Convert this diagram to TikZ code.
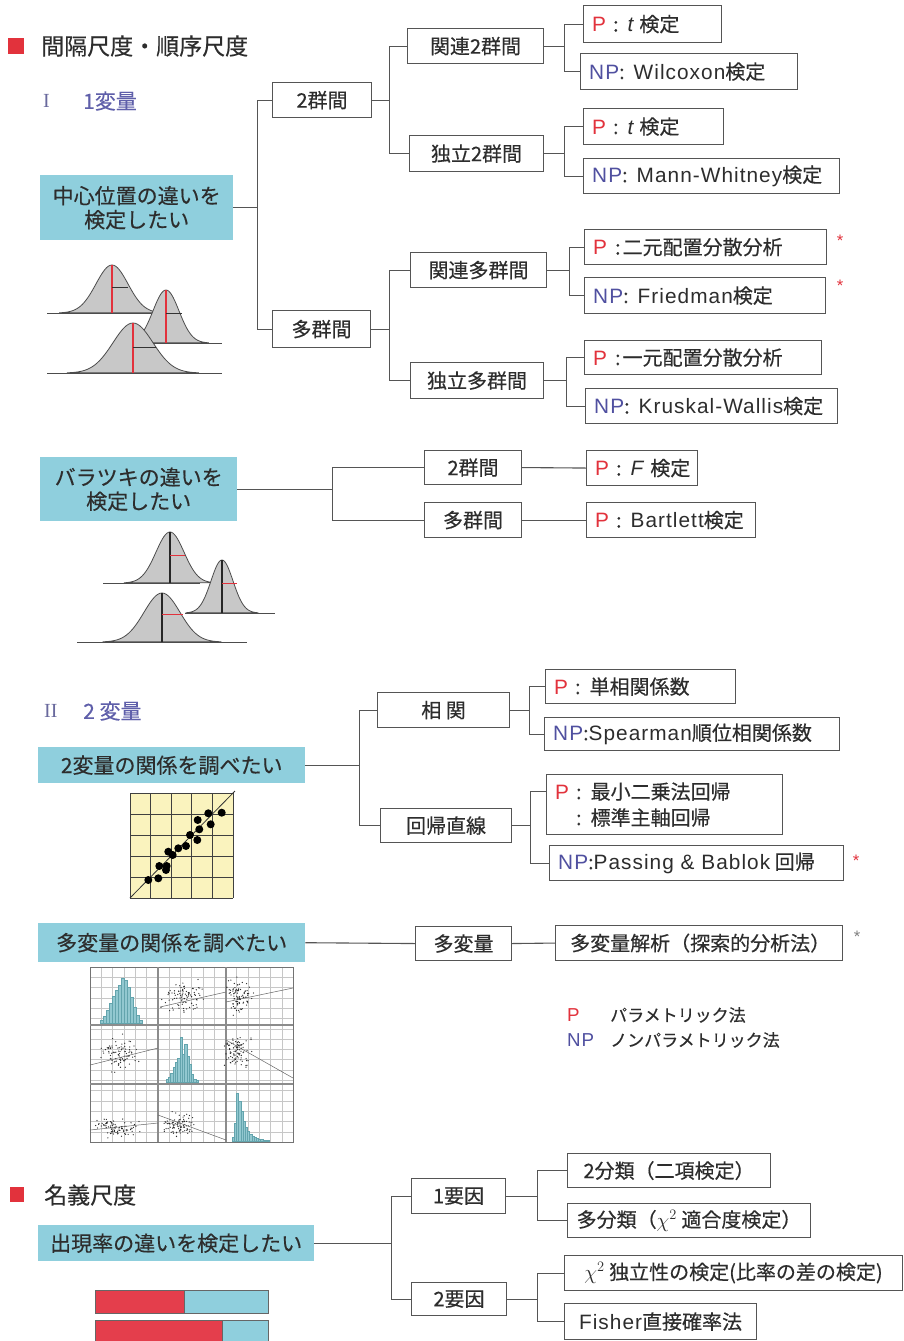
\documentclass[tikz,border=0pt]{standalone}
\usepackage{fontspec}
\setmainfont{Noto Sans CJK JP}[FakeBold=0.35]
\newfontfamily\lat{Liberation Sans}[Scale=1.04, LetterSpace=5]
\newfontfamily\serif{Liberation Serif}
\usetikzlibrary{calc}
\definecolor{pred}{RGB}{226,50,60}
\definecolor{npblue}{RGB}{80,80,160}
\definecolor{txt}{RGB}{45,45,45}
\definecolor{lin}{RGB}{85,85,85}
\definecolor{cyanbox}{RGB}{143,207,221}
\definecolor{secblue}{RGB}{95,95,170}
\definecolor{curvefill}{RGB}{200,200,200}
\definecolor{scatbg}{RGB}{250,243,190}
\definecolor{histc}{RGB}{110,182,192}
\definecolor{barred}{RGB}{228,62,76}
\newcommand\Pl{\textcolor{pred}{\lat P}}
\newcommand\NPl{\textcolor{npblue}{\lat NP}}
\newcommand\cl{\hspace{7pt}:\hspace{9pt}}
\newcommand\ncl{:\hspace{9pt}}
\tikzset{
  boxst/.style={draw=lin, line width=1.1pt, fill=white, inner sep=0pt, anchor=north west, font=\fontsize{20}{24}\selectfont, text=txt},
  conn/.style={draw=lin, line width=1.1pt},
  bluebox/.style={fill=cyanbox, inner sep=0pt, anchor=north west, align=center, font=\fontsize{21}{24}\selectfont, text=txt},
  lbl/.style={anchor=west, inner sep=0pt, align=left, font=\fontsize{20}{26}\selectfont, text=txt},
  hdr/.style={anchor=west, inner sep=0pt, font=\fontsize{23}{23}\selectfont, text=txt},
  seclbl/.style={anchor=west, inner sep=0pt, font=\fontsize{21}{21}\selectfont, text=secblue},
  ast/.style={inner sep=0pt, font=\lat\fontsize{16}{16}\selectfont, text=pred},
  leg/.style={anchor=west, inner sep=0pt, font=\fontsize{17}{18}\selectfont, text=txt},
  curve/.style={fill=curvefill, draw=black!70, line width=0.8pt},
  gridc/.style={draw=black!22, line width=0.4pt},
}
\newcommand\cbox[6]{\node[boxst, minimum width={#4-#2}, minimum height={#5-#3}] (#1) at (#2,#3) {#6};}
\newcommand\lbox[6]{\node[boxst, minimum width={#4-#2}, minimum height={#5-#3}] (#1) at (#2,#3) {};
  \node[lbl] (#1t) at ([xshift=9pt]#1.west) {#6};}
\newcommand\bbox[6]{\node[bluebox, minimum width={#4-#2}, minimum height={#5-#3}] (#1) at (#2,#3) {#6};}
\newcommand\bell[4]{\filldraw[curve] plot[domain=-3.3:3.3, samples=61, smooth] ({#1+#4*\x},{#2-#3*exp(-0.5*(\x)*(\x))}) -- cycle;}
\newcommand\cloud[5]{\foreach \k in {1,...,#5}{%
   \pgfmathsetmacro\ux{#1+#3*(rand+rand+rand)}%
   \pgfmathsetmacro\uy{#2+#4*(rand+rand+rand)}%
   \fill[black!85] (\ux,\uy) circle[radius=0.65];}}
\begin{document}
\begin{tikzpicture}[x=1pt,y=-1pt]
\useasboundingbox (0,0) rectangle (904,1341);
\fill[white] (0,0) rectangle (904,1341);

% ---------- header
\fill[pred] (8,38) rectangle (24,54);
\node[hdr] (h1) at (41,46) {間隔尺度・順序尺度};
\node[seclbl, font=\serif\fontsize{20}{20}\selectfont, text=secblue!70!gray] (s1a) at (43,101) {I};
\node[seclbl] (s1b) at (83,101) {1変量};

% ---------- section 1: centre
\bbox{c1}{40}{175}{233}{240}{中心位置の違いを\\検定したい}
\cbox{g2}{272}{82}{371}{117}{2群間}
\cbox{gm}{272}{310}{370}{347}{多群間}
\cbox{r2}{407}{28}{543}{63}{関連2群間}
\cbox{i2}{409}{135}{543}{171}{独立2群間}
\cbox{rm}{410}{252}{546}{287}{関連多群間}
\cbox{im}{410}{362}{543}{398}{独立多群間}
\lbox{l1}{583}{5}{721}{42}{\Pl\cl{\lat\itshape t}\hspace{6pt}検定}
\lbox{l2}{580}{53}{797}{89}{\NPl\ncl{\lat Wilcoxon}検定}
\lbox{l3}{583}{108}{723}{144}{\Pl\cl{\lat\itshape t}\hspace{6pt}検定}
\lbox{l4}{583}{158}{839}{193}{\NPl\ncl{\lat Mann-Whitney}検定}
\lbox{l5}{584}{229}{826}{264}{\Pl\hspace{8pt}:\hspace{2pt}二元配置分散分析}
\lbox{l6}{584}{277}{825}{313}{\NPl\ncl{\lat Friedman}検定}
\lbox{l7}{584}{340}{821}{374}{\Pl\hspace{8pt}:\hspace{2pt}一元配置分散分析}
\lbox{l8}{585}{388}{837}{423}{\NPl\ncl{\lat Kruskal-Wallis}検定}
\node[ast] (a1) at (840,241) {*};
\node[ast] (a2) at (840,286) {*};

\coordinate (j0) at ([xshift=24pt]c1.east);
\draw[conn] (c1.east) -- (j0);
\draw[conn] (g2.west) -| (j0);
\draw[conn] (gm.west) -| (j0);
\coordinate (j1) at ([xshift=17pt]g2.east);
\draw[conn] (g2.east) -- (j1);
\draw[conn] (r2.west) -| (j1);
\draw[conn] (i2.west) -| (j1);
\coordinate (j2) at ([xshift=18pt]gm.east);
\draw[conn] (gm.east) -- (j2);
\draw[conn] (rm.west) -| (j2);
\draw[conn] (im.west) -| (j2);
\coordinate (j3) at ([xshift=20pt]r2.east);
\draw[conn] (r2.east) -- (j3);
\draw[conn] (l1.west) -| (j3);
\draw[conn] (l2.west) -| (j3);
\coordinate (j4) at ([xshift=20pt]i2.east);
\draw[conn] (i2.east) -- (j4);
\draw[conn] (l3.west) -| (j4);
\draw[conn] (l4.west) -| (j4);
\coordinate (j5) at ([xshift=22pt]rm.east);
\draw[conn] (rm.east) -- (j5);
\draw[conn] (l5.west) -| (j5);
\draw[conn] (l6.west) -| (j5);
\coordinate (j6) at ([xshift=22pt]im.east);
\draw[conn] (im.east) -- (j6);
\draw[conn] (l7.west) -| (j6);
\draw[conn] (l8.west) -| (j6);

% bell curves 1
\draw[black!70, line width=0.8pt] (47,313) -- (165,313);
\bell{112}{313}{48}{16}
\draw[pred, line width=1.2pt] (112,265) -- (112,313);
\draw[black!80, line width=1pt] (112,287) -- (128,287);
\draw[black!70, line width=0.8pt] (143,343) -- (222,343);
\bell{166}{343}{53}{13}
\draw[pred, line width=1.2pt] (166,290) -- (166,343);
\draw[black!80, line width=1pt] (166,313) -- (182,313);
\draw[black!70, line width=0.8pt] (47,373) -- (222,373);
\bell{133}{373}{50}{20}
\draw[pred, line width=1.2pt] (133,323) -- (133,373);
\draw[black!80, line width=1pt] (133,347) -- (156,347);

% ---------- section 1: spread
\bbox{c2}{40}{457}{237}{521}{バラツキの違いを\\検定したい}
\cbox{v2}{424}{450}{521}{484}{2群間}
\cbox{vm}{424}{502}{521}{537}{多群間}
\lbox{vf}{586}{450}{697}{485}{\Pl\cl{\lat\itshape F}\hspace{7pt}検定}
\lbox{vb}{586}{502}{755}{537}{\Pl\cl{\lat Bartlett}検定}
\coordinate (j7) at ([xshift=95pt]c2.east);
\draw[conn] (c2.east) -- (j7);
\draw[conn] (v2.west) -| (j7);
\draw[conn] (vm.west) -| (j7);
\draw[conn] (v2.east) -- (vf.west);
\draw[conn] (vm.east) -- (vb.west);

\draw[black!70, line width=0.8pt] (103,583) -- (200,583);
\bell{170}{583}{51}{14}
\draw[black!85, line width=1.2pt] (170,532) -- (170,583);
\draw[pred, line width=1pt] (170,555) -- (185,555);
\draw[black!70, line width=0.8pt] (185,613) -- (275,613);
\bell{222}{613}{53}{11}
\draw[black!85, line width=1.2pt] (222,560) -- (222,613);
\draw[pred, line width=1pt] (222,583) -- (237,583);
\draw[black!70, line width=0.8pt] (77,642) -- (247,642);
\bell{162}{642}{49}{18}
\draw[black!85, line width=1.2pt] (162,593) -- (162,642);
\draw[pred, line width=1pt] (162,614) -- (183,614);

% ---------- section II
\node[seclbl, font=\serif\fontsize{20}{20}\selectfont, text=secblue!70!gray] (s2a) at (44,711) {II};
\node[seclbl] (s2b) at (83,711) {2 変量};
\bbox{c3}{38}{747}{305}{783}{2変量の関係を調べたい}
\cbox{co}{377}{692}{509}{727}{相 関}
\cbox{re}{380}{808}{511}{842}{回帰直線}
\lbox{sc}{545}{669}{735}{703}{\Pl\cl 単相関係数}
\lbox{sp}{544}{717}{839}{750}{\NPl:{\lat Spearman}順位相関係数}
\lbox{ls}{546}{774}{782}{834}{\Pl\cl 最小二乗法回帰\\\phantom{\Pl}\cl 標準主軸回帰}
\lbox{pb}{549}{845}{843}{880}{\NPl:{\lat Passing \& Bablok} 回帰}
\node[ast] (a3) at (856,861) {*};
\coordinate (j8) at ([xshift=54pt]c3.east);
\draw[conn] (c3.east) -- (j8);
\draw[conn] (co.west) -| (j8);
\draw[conn] (re.west) -| (j8);
\coordinate (j9) at ([xshift=19pt]co.east);
\draw[conn] (co.east) -- (j9);
\draw[conn] (sc.west) -| (j9);
\draw[conn] (sp.west) -| (j9);
\coordinate (j10) at ([xshift=18pt]re.east);
\draw[conn] (re.east) -- (j10);
\draw[conn] ([yshift=13pt]ls.west) -| (j10);
\draw[conn] (pb.west) -| (j10);

% scatter plot
\fill[scatbg] (130,793) rectangle (233,898);
\foreach \i in {0,...,5} {
  \draw[black!75, line width=0.9pt] ({130+\i*20.6},793) -- ({130+\i*20.6},898);
  \draw[black!75, line width=0.9pt] (130,{793+\i*21}) -- (233,{793+\i*21});
}
\draw[black!80, line width=0.8pt] (130,898) -- (235,791);
\foreach \px/\py in {148.3/880,158.3/878.3,159.3/866,166.7/866,166/870,168.3/851.7,172.7/855,178.3/848.3,186/846,190/835,197.3/840,199.3/829.3,197.7/820,208.3/813.3,210.7/824.3,221.7/812.7}
  \fill[black] (\px,\py) circle[radius=4];

% multivariate
\bbox{c4}{38}{923}{305}{962}{多変量の関係を調べたい}
\cbox{mv}{415}{926}{511}{960}{多変量}
\lbox{ma}{555}{925}{842}{960}{\hspace{6pt}多変量解析（探索的分析法）}
\node[ast, text=black!50] (a4) at (857,937) {*};
\draw[conn] (c4.east) -- (mv.west);
\draw[conn] (mv.east) -- (ma.west);

% scatter matrix
\fill[white] (90,967) rectangle (293,1142);
\foreach \i in {0,...,18} \draw[gridc] ({90+\i*203/18},967) -- ({90+\i*203/18},1142);
\foreach \j in {0,...,17} \draw[gridc] (90,{967+\j*175/17}) -- (293,{967+\j*175/17});
\draw[black!55, line width=1pt] (90,967) rectangle (293,1142);
\draw[black!45, line width=1.4pt] (158,967) -- (158,1142) (226,967) -- (226,1142) (90,1025) -- (293,1025) (90,1084) -- (293,1084);
\foreach \h [count=\i] in {3,7,13,20,27,33,38,45,43,36,26,16,8,3}
  \filldraw[fill=histc!75, draw=histc!90!black, line width=0.3pt] ({100+(\i-1)*3},1023) rectangle ++(3,-\h);
\foreach \h [count=\i] in {3,5,9,15,20,24,45,28,38,26,18,8,3,2}
  \filldraw[fill=histc!75, draw=histc!90!black, line width=0.3pt] ({166+(\i-1)*2.3},1082) rectangle ++(2.3,-\h);
\foreach \h [count=\i] in {4,18,48,40,30,20,14,10,7,5,4,3,2,2,1,1,1}
  \filldraw[fill=histc!75, draw=histc!90!black, line width=0.3pt] ({232+(\i-1)*2.2},1141) rectangle ++(2.2,-\h);
\pgfmathsetseed{4242}
\cloud{183}{997}{9}{7}{90}
\cloud{240}{996}{6}{8}{90}
\cloud{118}{1053}{9}{8}{90}
\cloud{237}{1050}{6}{8}{90}
\cloud{117}{1127}{10}{4}{90}
\cloud{180}{1125}{8}{5}{90}
\draw[black!60, line width=0.5pt] (160,1007) -- (226,992);
\draw[black!60, line width=0.5pt] (226,1002) -- (293,988);
\draw[black!60, line width=0.5pt] (90,1065) -- (158,1048);
\draw[black!60, line width=0.5pt] (226,1040) -- (293,1078);
\draw[black!60, line width=0.5pt] (90,1130) -- (158,1123);
\draw[black!60, line width=0.5pt] (158,1115) -- (226,1140);

% legend
\node[leg, font=\lat\fontsize{18}{18}\selectfont, text=pred] (lp) at (567,1015) {P};
\node[leg] (lpt) at (610,1015) {パラメトリック法};
\node[leg, font=\lat\fontsize{18}{18}\selectfont, text=npblue] (lnp) at (567,1040) {NP};
\node[leg] (lnpt) at (610,1040) {ノンパラメトリック法};

% ---------- nominal
\fill[pred] (10,1187) rectangle (24,1202);
\node[hdr] (h2) at (44,1195) {名義尺度};
\bbox{c5}{38}{1225}{314}{1261}{出現率の違いを検定したい}
\cbox{f1}{411}{1178}{505}{1213}{1要因}
\cbox{f2}{411}{1282}{506}{1315}{2要因}
\cbox{n1}{567}{1153}{770}{1187}{2分類（二項検定）}
\cbox{n2}{567}{1203}{810}{1237}{多分類（$\chi^2$ 適合度検定）}
\cbox{n3}{564}{1255}{902}{1290}{$\chi^2$ 独立性の検定(比率の差の検定)}
\cbox{n4}{564}{1303}{756}{1339}{{\lat Fisher}直接確率法}
\coordinate (j11) at ([xshift=77pt]c5.east);
\draw[conn] (c5.east) -- (j11);
\draw[conn] (f1.west) -| (j11);
\draw[conn] (f2.west) -| (j11);
\coordinate (j12) at ([xshift=31pt]f1.east);
\draw[conn] (f1.east) -- (j12);
\draw[conn] (n1.west) -| (j12);
\draw[conn] (n2.west) -| (j12);
\coordinate (j13) at ([xshift=30pt]f2.east);
\draw[conn] (f2.east) -- (j13);
\draw[conn] (n3.west) -| (j13);
\draw[conn] (n4.west) -| (j13);

% bars
\fill[barred] (95,1290) rectangle (184,1313);
\fill[cyanbox] (184,1290) rectangle (268,1313);
\draw[black!60, line width=0.8pt] (95,1290) rectangle (268,1313) (184,1290) -- (184,1313);
\fill[barred] (95,1320) rectangle (222,1345);
\fill[cyanbox] (222,1320) rectangle (268,1345);
\draw[black!60, line width=0.8pt] (95,1320) rectangle (268,1345) (222,1320) -- (222,1345);
\end{tikzpicture}
\end{document}
